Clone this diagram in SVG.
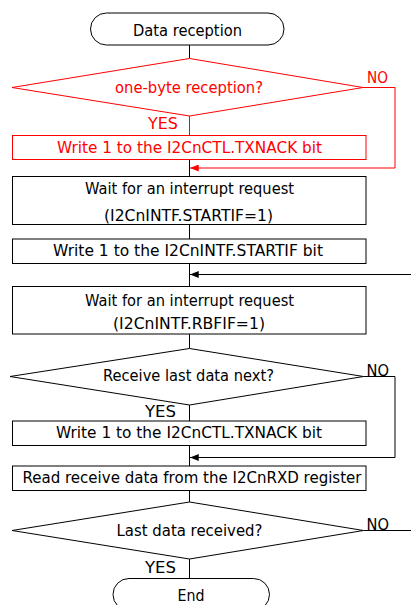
<svg xmlns="http://www.w3.org/2000/svg" width="411" height="605" viewBox="0 0 411 605">
<style>
.s{fill:#fff;stroke:#000;stroke-width:1}
.r{fill:#fff;stroke:#f00;stroke-width:1}
.c{fill:none;stroke:#000;stroke-width:1}
.cr{fill:none;stroke:#f00;stroke-width:1}
text{font-family:"DejaVu Sans","Liberation Sans",sans-serif;font-size:15px;fill:#000}
.t-red{fill:#f00}
</style>
<defs>
<marker id="ab" viewBox="0 0 10 8" refX="10" refY="4" markerWidth="9" markerHeight="7" markerUnits="userSpaceOnUse" orient="auto"><path d="M0,0 L10,4 L0,8 z" fill="#000"/></marker>
<marker id="ar" viewBox="0 0 10 8" refX="10" refY="4" markerWidth="9" markerHeight="7" markerUnits="userSpaceOnUse" orient="auto"><path d="M0,0 L10,4 L0,8 z" fill="#f00"/></marker>
</defs>
<g id="connectors">
<path class="c" d="M189.5,45 V58.5"/>
<path class="cr" d="M189.5,116 V135"/>
<path class="c" d="M189.5,159.5 V176"/>
<path class="cr" d="M363,87.5 H395 V168 H190" marker-end="url(#ar)"/>
<path class="c" d="M189.5,224.5 V239"/>
<path class="c" d="M189.5,263.5 V286"/>
<path class="c" d="M411,274.5 H190" marker-end="url(#ab)"/>
<path class="c" d="M189.5,334 V348.5"/>
<path class="c" d="M363.5,376.5 H395 V457.5 H190" marker-end="url(#ab)"/>
<path class="c" d="M189.5,405 V421"/>
<path class="c" d="M189.5,445.5 V466"/>
<path class="c" d="M189.5,490.5 V502"/>
<path class="c" d="M189.5,559 V578.5"/>
<path class="c" d="M363.5,530.5 H411"/>
</g>
<g id="start">
<rect class="s" x="90.5" y="13" width="193.5" height="32" rx="16" ry="16"/>
<text x="133" y="36" textLength="109" lengthAdjust="spacingAndGlyphs">Data reception</text>
</g>
<g id="dec1">
<polygon class="r" points="189.5,58.5 363,87.5 189.5,116 12,87.5"/>
<text class="t-red" x="115" y="92.5" textLength="148" lengthAdjust="spacingAndGlyphs">one-byte reception?</text>
<text class="t-red" x="148" y="129" textLength="30" lengthAdjust="spacingAndGlyphs">YES</text>
<text class="t-red" x="367" y="83" textLength="21" lengthAdjust="spacingAndGlyphs">NO</text>
</g>
<g id="box1">
<rect class="r" x="12.5" y="135.5" width="353.5" height="24"/>
<text class="t-red" x="57" y="152.5" textLength="265" lengthAdjust="spacingAndGlyphs">Write 1 to the I2CnCTL.TXNACK bit</text>
</g>
<g id="box2">
<rect class="s" x="12.5" y="176.5" width="353.5" height="48"/>
<text x="85" y="194" textLength="209" lengthAdjust="spacingAndGlyphs">Wait for an interrupt request</text>
<text x="104" y="220.5" textLength="169" lengthAdjust="spacingAndGlyphs">(I2CnINTF.STARTIF=1)</text>
</g>
<g id="box3">
<rect class="s" x="12.5" y="239" width="353.5" height="24.5"/>
<text x="53" y="256" textLength="270" lengthAdjust="spacingAndGlyphs">Write 1 to the I2CnINTF.STARTIF bit</text>
</g>
<g id="box4">
<rect class="s" x="12.5" y="286.5" width="353.5" height="47.5"/>
<text x="85" y="306" textLength="209" lengthAdjust="spacingAndGlyphs">Wait for an interrupt request</text>
<text x="113" y="328.5" textLength="152" lengthAdjust="spacingAndGlyphs">(I2CnINTF.RBFIF=1)</text>
</g>
<g id="dec2">
<polygon class="s" points="189.5,348.5 363.5,376.5 189.5,405 10,376.5"/>
<text x="103" y="380.5" textLength="171" lengthAdjust="spacingAndGlyphs">Receive last data next?</text>
<text x="145" y="417" textLength="31" lengthAdjust="spacingAndGlyphs">YES</text>
<text x="366.5" y="376" textLength="22.5" lengthAdjust="spacingAndGlyphs">NO</text>
</g>
<g id="box5">
<rect class="s" x="12.5" y="421" width="353.5" height="24.5"/>
<text x="56" y="438" textLength="266" lengthAdjust="spacingAndGlyphs">Write 1 to the I2CnCTL.TXNACK bit</text>
</g>
<g id="box6">
<rect class="s" x="12.5" y="466" width="353.5" height="24.5"/>
<text x="22.5" y="483" textLength="339" lengthAdjust="spacingAndGlyphs">Read receive data from the I2CnRXD register</text>
</g>
<g id="dec3">
<polygon class="s" points="189.5,502 363.5,530.5 189.5,559 12,530.5"/>
<text x="116.5" y="535.5" textLength="146" lengthAdjust="spacingAndGlyphs">Last data received?</text>
<text x="145" y="572.5" textLength="31" lengthAdjust="spacingAndGlyphs">YES</text>
<text x="366.5" y="530" textLength="22.5" lengthAdjust="spacingAndGlyphs">NO</text>
</g>
<g id="end">
<rect class="s" x="113" y="578.5" width="156.5" height="32" rx="16" ry="16"/>
<text x="177.5" y="601" textLength="27" lengthAdjust="spacingAndGlyphs">End</text>
</g>
</svg>
